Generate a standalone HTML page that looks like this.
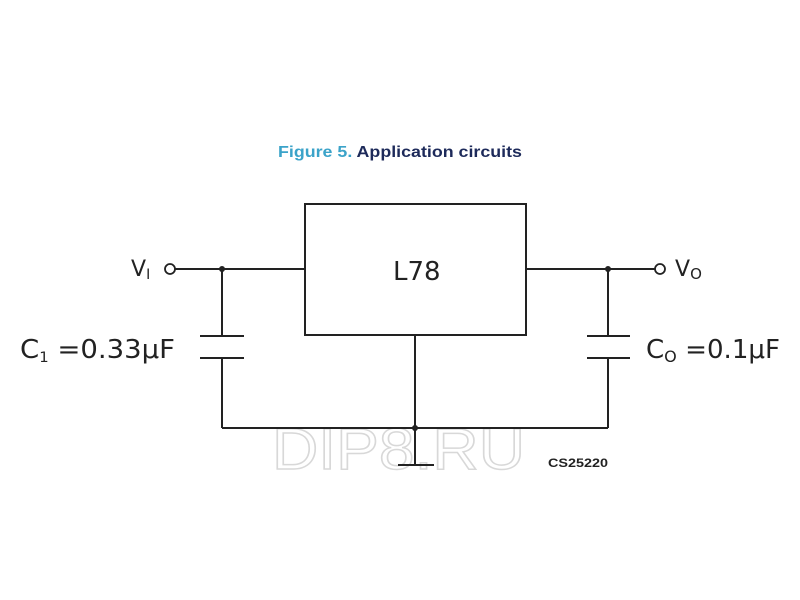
<!DOCTYPE html>
<html><head><style>
html,body{margin:0;padding:0;background:#fff;}
svg{display:block;}
</style></head><body>
<svg width="800" height="600" viewBox="0 0 800 600" xmlns="http://www.w3.org/2000/svg">
<rect width="800" height="600" fill="#fff"/>
<text x="278" y="157" font-family="Liberation Sans, sans-serif" font-weight="bold" font-size="15.5" fill="#3ba3c9" textLength="244" lengthAdjust="spacingAndGlyphs">Figure 5. <tspan fill="#1d2a5a">Application circuits</tspan></text>
<!-- watermark -->
<text x="272" y="469" font-family="Liberation Sans, sans-serif" font-size="58" fill="none" stroke="#d8d8d8" stroke-width="1.5" textLength="253" lengthAdjust="spacingAndGlyphs">DIP8.RU</text>
<g stroke="#222" stroke-width="2" fill="none">
<rect x="305" y="204" width="221" height="131"/>
<line x1="175" y1="269" x2="305" y2="269"/>
<line x1="526" y1="269" x2="655" y2="269"/>
<line x1="222" y1="269" x2="222" y2="336"/>
<line x1="222" y1="358" x2="222" y2="428"/>
<line x1="200" y1="336" x2="244" y2="336"/>
<line x1="200" y1="358" x2="244" y2="358"/>
<line x1="608" y1="269" x2="608" y2="336"/>
<line x1="608" y1="358" x2="608" y2="428"/>
<line x1="587" y1="336" x2="630" y2="336"/>
<line x1="587" y1="358" x2="630" y2="358"/>
<line x1="222" y1="428" x2="608" y2="428"/>
<line x1="415" y1="335" x2="415" y2="465"/>
<line x1="398" y1="465" x2="434" y2="465"/>
<circle cx="170" cy="269" r="5" stroke-width="1.8"/>
<circle cx="660" cy="269" r="5" stroke-width="1.8"/>
</g>
<g fill="#222">
<circle cx="222" cy="269" r="3"/>
<circle cx="608" cy="269" r="3"/>
<circle cx="415" cy="428" r="3"/>
</g>
<g font-family="DejaVu Sans, Liberation Sans, sans-serif" fill="#222">
<text x="393" y="280" font-size="26">L78</text>
<text x="131" y="276" font-size="22">V<tspan font-size="14" dy="3">I</tspan></text>
<text x="675" y="276" font-size="22">V<tspan font-size="15" dy="3">O</tspan></text>
<text x="20" y="358" font-size="26" textLength="155" lengthAdjust="spacingAndGlyphs">C<tspan font-size="14" dy="4">1</tspan><tspan dy="-4"> =0.33μF</tspan></text>
<text x="646" y="358" font-size="26" textLength="134" lengthAdjust="spacingAndGlyphs">C<tspan font-size="16" dy="4">O</tspan><tspan dy="-4"> =0.1μF</tspan></text>
</g>
<text x="548" y="467" font-family="Liberation Sans, sans-serif" font-weight="bold" font-size="12" fill="#222" textLength="60" lengthAdjust="spacingAndGlyphs">CS25220</text>
</svg>
</body></html>
